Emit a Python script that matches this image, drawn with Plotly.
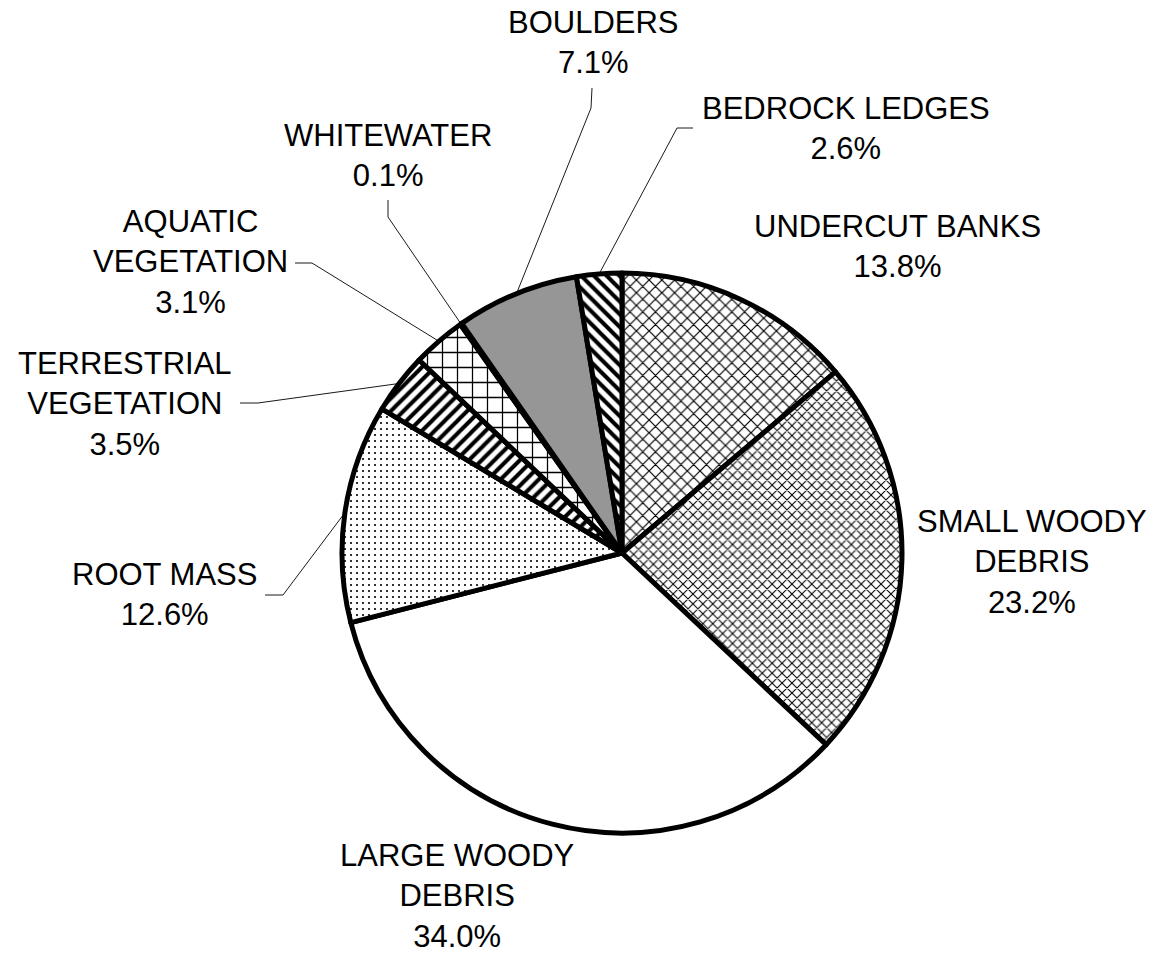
import math
import plotly.graph_objects as go

# Habitat cover types, clockwise from 12 o'clock
categories = [
    "UNDERCUT BANKS", "SMALL WOODY<br>DEBRIS", "LARGE WOODY<br>DEBRIS", "ROOT MASS",
    "TERRESTRIAL<br>VEGETATION", "AQUATIC<br>VEGETATION", "WHITEWATER",
    "BOULDERS", "BEDROCK LEDGES",
]
percent = [13.8, 23.2, 34.0, 12.6, 3.5, 3.1, 0.1, 7.1, 2.6]

# Slice fills
fill_colors = ["white", "white", "white", "white", "white", "white", "white", "#969696", "white"]
pattern_shape = ["x", "x", "", ".", "/", "+", "", "", "\\"]
pattern_size = [9, 7, 8, 6, 9, 15, 8, 8, 9]
pattern_solidity = [0.25, 0.28, 0.3, 0.1, 0.45, 0.16, 0.3, 0.3, 0.45]

W, H = 1159, 956
CX, CY, R = 622, 553, 280

# Label block centres (pixels) and leader-line elbows (label end, bend)
label_pos = {
    "UNDERCUT BANKS": (897, 246),
    "SMALL WOODY<br>DEBRIS": (1032, 562),
    "LARGE WOODY<br>DEBRIS": (457, 896),
    "ROOT MASS": (164, 594),
    "TERRESTRIAL<br>VEGETATION": (125, 404),
    "AQUATIC<br>VEGETATION": (190, 262),
    "WHITEWATER": (388, 155),
    "BOULDERS": (593, 42),
    "BEDROCK LEDGES": (846, 128),
}
leader_elbows = {
    "ROOT MASS": [(265, 595), (283, 595)],
    "TERRESTRIAL<br>VEGETATION": [(240, 403), (258, 403)],
    "AQUATIC<br>VEGETATION": [(295, 263), (312, 263)],
    "WHITEWATER": [(388, 200), (388, 217)],
    "BOULDERS": [(592, 88), (591, 108)],
    "BEDROCK LEDGES": [(693, 128), (677, 128)],
}

fig = go.Figure()

fig.add_trace(go.Pie(
    labels=categories,
    values=percent,
    sort=False,
    direction="clockwise",
    rotation=0,
    textinfo="none",
    hoverinfo="label+percent",
    showlegend=False,
    marker=dict(
        colors=fill_colors,
        line=dict(color="black", width=5),
        pattern=dict(
            shape=pattern_shape,
            size=pattern_size,
            solidity=pattern_solidity,
            fgcolor="black",
            fillmode="replace",
        ),
    ),
    domain=dict(x=[(CX - R) / W, (CX + R) / W], y=[(H - CY - R) / H, (H - CY + R) / H]),
))

total = sum(percent)
cum = 0.0
font = dict(family="Liberation Sans, Arial, sans-serif", size=31, color="black")
for name, val in zip(categories, percent):
    mid = (cum + val / 2) / total * 2 * math.pi
    cum += val
    ex = CX + R * math.sin(mid)
    ey = CY - R * math.cos(mid)
    if name in leader_elbows:
        pts = leader_elbows[name] + [(ex, ey)]
        fig.add_trace(go.Scatter(
            x=[p[0] for p in pts], y=[p[1] for p in pts],
            mode="lines", line=dict(color="#1a1a1a", width=1),
            hoverinfo="skip", showlegend=False,
        ))
    lx, ly = label_pos[name]
    fig.add_annotation(
        x=lx, y=ly, xref="x", yref="y",
        text=f"{name}<br>{val:.1f}%",
        showarrow=False, font=font, align="center",
        xanchor="center", yanchor="middle",
    )

fig.update_xaxes(range=[0, W], visible=False, domain=[0, 1])
fig.update_yaxes(range=[H, 0], visible=False, domain=[0, 1])
fig.update_layout(
    width=W, height=H,
    margin=dict(l=0, r=0, t=0, b=0),
    paper_bgcolor="white", plot_bgcolor="rgba(0,0,0,0)",
)

fig.write_html("out.html")
